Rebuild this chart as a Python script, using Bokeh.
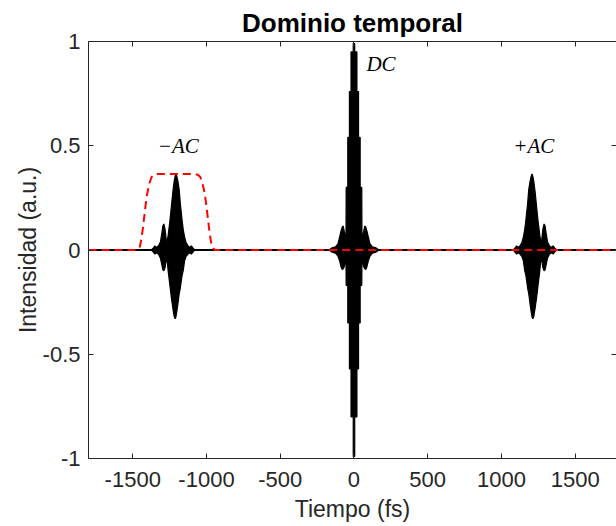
from bokeh.plotting import figure
from bokeh.models import Range1d, FixedTicker, LinearAxis, ColumnDataSource
from bokeh.core.properties import value
from bokeh.embed import file_html
from bokeh.resources import INLINE

# ---------------- data ----------------
x_ticks = [-1500, -1000, -500, 0, 500, 1000, 1500]
x_tick_labels = ["-1500", "-1000", "-500", "0", "500", "1000", "1500"]
y_ticks = [-1, -0.5, 0, 0.5, 1]
y_tick_labels = ["-1", "-0.5", "0", "0.5", "1"]

# signal baseline (flat part of the trace)
base_t = [-1800, 1800]
base_v = [0, 0]

# -AC packet envelope (upper / lower)
nac_t = [-1375, -1360, -1350, -1340, -1325, -1312, -1303, -1296, -1289, -1281,
         -1273, -1266, -1260, -1248, -1238, -1228, -1219, -1212, -1207, -1200,
         -1194, -1185, -1177, -1165, -1158, -1148, -1138, -1125, -1112, -1103,
         -1092, -1080]
nac_up = [0, 0.01, 0.02, 0.012, 0.02, 0.04, 0.08, 0.115, 0.125, 0.10,
          0.05, 0.045, 0.07, 0.14, 0.21, 0.28, 0.33, 0.355, 0.365, 0.35,
          0.33, 0.29, 0.22, 0.14, 0.10, 0.06, 0.035, 0.02, 0.012, 0.02,
          0.01, 0]
nac_lo = [0, -0.01, -0.02, -0.012, -0.02, -0.04, -0.07, -0.095, -0.10, -0.085,
          -0.05, -0.05, -0.10, -0.17, -0.23, -0.28, -0.32, -0.33, -0.32, -0.29,
          -0.26, -0.21, -0.18, -0.12, -0.10, -0.05, -0.03, -0.02, -0.012, -0.02,
          -0.01, 0]

# DC packet envelope (upper / lower)
dc_t = [-170, -150, -125, -108, -98, -88, -80, -73, -66, -60,
        -54, -53, -42, -42, -31, -31, -20, -20, -5, -5,
        5, 5, 20, 20, 31, 31, 42, 42, 53, 54,
        60, 66, 73, 80, 88, 98, 108, 125, 150, 170]
dc_up = [0, 0.01, 0.015, 0.03, 0.06, 0.09, 0.11, 0.115, 0.09, 0.07,
         0.06, 0.30, 0.30, 0.54, 0.54, 0.76, 0.76, 0.95, 0.95, 0.99,
         0.99, 0.95, 0.95, 0.76, 0.76, 0.54, 0.54, 0.30, 0.30, 0.06,
         0.07, 0.09, 0.115, 0.11, 0.09, 0.06, 0.03, 0.015, 0.01, 0]
dc_lo = [0, -0.01, -0.015, -0.03, -0.05, -0.08, -0.093, -0.09, -0.08, -0.06,
         -0.06, -0.17, -0.17, -0.35, -0.35, -0.57, -0.57, -0.80, -0.80, -0.99,
         -0.99, -0.80, -0.80, -0.57, -0.57, -0.35, -0.35, -0.17, -0.17, -0.06,
         -0.06, -0.08, -0.09, -0.093, -0.08, -0.05, -0.03, -0.015, -0.01, 0]

# +AC packet envelope (upper / lower)
pac_t = [1080, 1092, 1103, 1112, 1125, 1138, 1148, 1158, 1165, 1177,
         1185, 1194, 1200, 1207, 1212, 1219, 1228, 1238, 1248, 1260,
         1266, 1273, 1281, 1289, 1296, 1303, 1312, 1325, 1340, 1350,
         1360, 1375]
pac_up = [0, 0.01, 0.02, 0.012, 0.02, 0.035, 0.06, 0.10, 0.14, 0.22,
          0.29, 0.33, 0.35, 0.365, 0.355, 0.33, 0.28, 0.21, 0.14, 0.07,
          0.045, 0.05, 0.10, 0.125, 0.115, 0.08, 0.04, 0.02, 0.012, 0.02,
          0.01, 0]
pac_lo = [0, -0.01, -0.02, -0.012, -0.02, -0.03, -0.05, -0.10, -0.12, -0.18,
          -0.21, -0.26, -0.29, -0.32, -0.33, -0.32, -0.28, -0.23, -0.17, -0.10,
          -0.05, -0.05, -0.085, -0.10, -0.095, -0.07, -0.04, -0.02, -0.012, -0.02,
          -0.01, 0]

# red dashed filter window
win_t = [-1800, -1470, -1452, -1442, -1432, -1422, -1412, -1402, -1387, -1372,
         -1357, -1337, -1207, -1077, -1057, -1042, -1027, -1012, -1002, -992,
         -982, -972, -962, -944, 1800]
win_v = [0, 0, 0.015, 0.05, 0.10, 0.16, 0.22, 0.27, 0.32, 0.35,
         0.36, 0.365, 0.365, 0.365, 0.36, 0.35, 0.32, 0.27, 0.22, 0.16,
         0.10, 0.05, 0.015, 0, 0]

# annotations
ann_text = ["\u2212AC", "DC", "+AC"]
ann_x = [-1191, 183, 1219]
ann_y = [0.50, 0.89, 0.50]

# ---------------- figure ----------------
AX = "#262626"
FONT = "Liberation Sans"

p = figure(width=616, height=526, output_backend="svg", toolbar_location=None,
           x_range=Range1d(-1800, 1780), y_range=Range1d(-1, 1),
           min_border_left=88, min_border_right=0, min_border_top=41,
           min_border_bottom=68, title="Dominio temporal",
           x_axis_label="Tiempo (fs)", y_axis_label="Intensidad (a.u.)")
p.outline_line_color = None
p.grid.visible = False
p.background_fill_color = "white"
p.border_fill_color = "white"

p.title.text_font = FONT
p.title.text_font_size = "26px"
p.title.text_font_style = "bold"
p.title.text_color = "black"
p.title.align = "center"
p.title.standoff = 8

xt = FixedTicker(ticks=x_ticks)
yt = FixedTicker(ticks=y_ticks)


def style(ax, ticker, labels=None, ticks_vals=None, hide=False, line=True):
    ax.ticker = ticker
    ax.major_tick_in = 5
    ax.major_tick_out = 0
    ax.minor_tick_line_color = None
    ax.major_tick_line_color = AX
    ax.axis_line_color = AX if line else None
    ax.axis_line_width = 1
    ax.major_label_text_font = FONT
    ax.major_label_text_color = AX
    ax.axis_label_text_font = FONT
    ax.axis_label_text_font_style = "normal"
    ax.axis_label_text_color = AX
    ax.axis_label_text_font_size = "23px"
    if hide:
        ax.major_label_text_font_size = "0px"
        ax.major_label_text_alpha = 0
        ax.major_label_standoff = 0
    else:
        ax.major_label_text_font_size = "22px"
        ax.major_label_overrides = {v: s for v, s in zip(ticks_vals, labels)}


style(p.xaxis[0], xt, x_tick_labels, x_ticks)
p.xaxis[0].major_label_standoff = 13
p.xaxis[0].axis_label_standoff = 6
style(p.yaxis[0], yt, y_tick_labels, y_ticks)
p.yaxis[0].major_label_standoff = 8
p.yaxis[0].axis_label_standoff = -1

top_ax = LinearAxis()
style(top_ax, xt, hide=True)
p.add_layout(top_ax, "above")
right_ax = LinearAxis()
style(right_ax, yt, hide=True, line=False)
p.add_layout(right_ax, "right")

# ---------------- glyphs ----------------
p.line(base_t, base_v, line_color="black", line_width=2)
for t, up, lo in ((nac_t, nac_up, nac_lo), (dc_t, dc_up, dc_lo), (pac_t, pac_up, pac_lo)):
    p.varea(x=t, y1=lo, y2=up, fill_color="black")
    p.line(t, up, line_color="black", line_width=1.2)
    p.line(t, lo, line_color="black", line_width=1.2)

p.line(win_t, win_v, line_color="#ff0000", line_width=2, line_dash="8 5")

src = ColumnDataSource(dict(x=ann_x, y=ann_y, text=ann_text))
p.text(x="x", y="y", text="text", source=src, text_font=value("Liberation Serif"),
       text_font_style="italic", text_font_size="21px", text_align="center",
       text_baseline="middle", text_color="black")

open("out.html", "w").write(file_html(p, INLINE))
